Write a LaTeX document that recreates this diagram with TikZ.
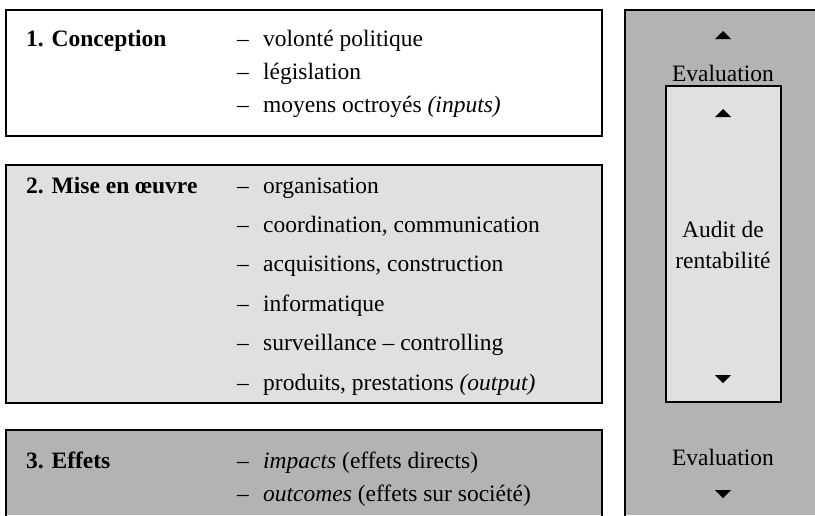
\documentclass[tikz,border=0pt]{standalone}
\usepackage{fontspec}
\setmainfont{Liberation Serif}
\usetikzlibrary{positioning}

\begin{document}
\begin{tikzpicture}[x=1pt,y=-1pt,inner sep=0pt]
      % Styles
      \tikzset{frame/.style={line width=2.6pt},
               phase/.style={anchor=base west,font=\fontsize{23.5}{28}\selectfont\bfseries},
               item/.style={anchor=base west,font=\fontsize{23.5}{28}\selectfont},
               side/.style={align=center,font=\fontsize{23.5}{31}\selectfont}}
      \definecolor{lightgr}{HTML}{E0E0E0}
      \definecolor{darkgr}{HTML}{B3B3B3}
      \useasboundingbox (0,0) rectangle (815,515);

      % 1. Conception
      \draw[frame] (6,10) rectangle (602,136);
      \node[phase] (conc) at (26,46) {1. Conception};
      \foreach \txt [count=\i] in {volont\'e politique, l\'egislation,
                                   moyens octroy\'es \textit{(inputs)}}{%
        \node[item] (cd\i) at (237,{46+33*(\i-1)}) {--};
        \node[item] (c\i) at (263,{46+33*(\i-1)}) {\txt};
      }

      % 2. Mise en oeuvre
      \draw[frame,fill=lightgr] (6,165) rectangle (602,403);
      \node[phase] (mise) at (26,193) {2. Mise en œuvre};
      \foreach \txt [count=\i] in {organisation, {coordination, communication},
                                   {acquisitions, construction}, informatique,
                                   surveillance -- controlling,
                                   {produits, prestations \textit{(output)}}}{%
        \node[item] (md\i) at (237,{193+39.4*(\i-1)}) {--};
        \node[item] (m\i) at (263,{193+39.4*(\i-1)}) {\txt};
      }

      % 3. Effets (open at the bottom)
      \fill[darkgr] (6,430) rectangle (602,515);
      \draw[frame] (6,516) -- (6,430) -- (602,430) -- (602,516);
      \node[phase] (eff) at (26,468) {3. Effets};
      \foreach \txt [count=\i] in {\textit{impacts} (effets directs),
                                   \textit{outcomes} (effets sur soci\'et\'e)}{%
        \node[item] (ed\i) at (237,{468+33*(\i-1)}) {--};
        \node[item] (e\i) at (263,{468+33*(\i-1)}) {\txt};
      }

      % evaluation column
      \fill[darkgr] (625,10) rectangle (815,515);
      \draw[frame] (625,516) -- (625,10) -- (816,10);
      \node[side] (evtop) at (723,73) {Evaluation};
      \node[side] (evbot) at (723,457) {Evaluation};

      % audit box
      \draw[frame,fill=lightgr] (666,86) rectangle (781,402);
      \node[side] (audit) at (723,245) {Audit de\\rentabilit\'e};

      % small arrow heads
      \foreach \y in {35,113}{%
        \fill (723,\y) ++(-8,4) -- ++(16,0) -- ++(-8,-8) -- cycle;
      }
      \foreach \y in {379,494}{%
        \fill (723,\y) ++(-8,-4) -- ++(16,0) -- ++(-8,8) -- cycle;
      }
    \end{tikzpicture}
\end{document}
